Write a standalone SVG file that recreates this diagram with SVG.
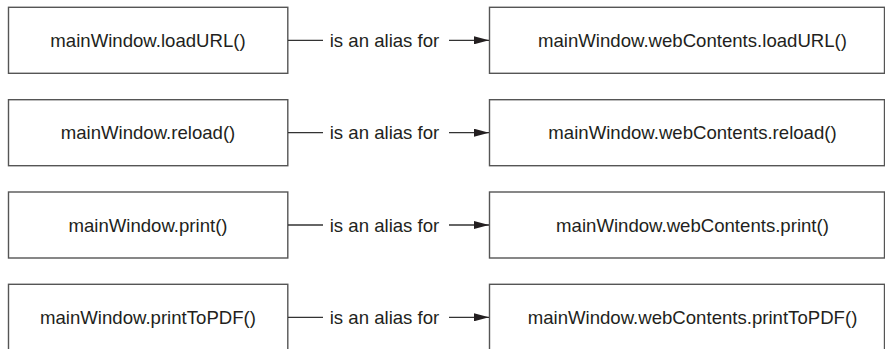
<svg xmlns="http://www.w3.org/2000/svg" width="885" height="349" viewBox="0 0 885 349">
<defs>
<style>
.box{fill:#fff;stroke:#555;stroke-width:1.4}
.t{font-family:"Liberation Sans",Arial,sans-serif;font-size:18.6px;fill:#231f20;text-anchor:middle}
.c{stroke:#333;stroke-width:1.3;fill:none}
</style>
<marker id="ah" markerWidth="15" markerHeight="8" refX="15" refY="4" orient="auto" markerUnits="userSpaceOnUse">
<path d="M0,0 L15,4 L0,8 Z" fill="#231f20"/>
</marker>
</defs>
<rect width="885" height="349" fill="#fff"/>
<g id="n1"><rect class="box" x="8.5" y="7.3" width="279.3" height="66"/><text class="t" x="148" y="47">mainWindow.loadURL()</text></g>
<g id="n2"><rect class="box" x="489.5" y="7.3" width="395" height="66"/><text class="t" x="692.5" y="47">mainWindow.webContents.loadURL()</text></g>
<g id="n3"><rect class="box" x="8.5" y="99.7" width="279.3" height="66"/><text class="t" x="148" y="139.3">mainWindow.reload()</text></g>
<g id="n4"><rect class="box" x="489.5" y="99.7" width="395" height="66"/><text class="t" x="692.5" y="139.3">mainWindow.webContents.reload()</text></g>
<g id="n5"><rect class="box" x="8.5" y="192" width="279.3" height="66"/><text class="t" x="148" y="231.6">mainWindow.print()</text></g>
<g id="n6"><rect class="box" x="489.5" y="192" width="395" height="66"/><text class="t" x="692.5" y="231.6">mainWindow.webContents.print()</text></g>
<g id="n7"><rect class="box" x="8.5" y="284.3" width="279.3" height="80"/><text class="t" x="148" y="323.9">mainWindow.printToPDF()</text></g>
<g id="n8"><rect class="box" x="489.5" y="284.3" width="395" height="80"/><text class="t" x="692.5" y="323.9">mainWindow.webContents.printToPDF()</text></g>
<g id="connectors">
<line class="c" x1="288" y1="40.3" x2="323" y2="40.3"/>
<line class="c" x1="449" y1="40.3" x2="489" y2="40.3" marker-end="url(#ah)"/>
<text class="t" x="384.5" y="46.9">is an alias for</text>
<line class="c" x1="288" y1="132.7" x2="323" y2="132.7"/>
<line class="c" x1="449" y1="132.7" x2="489" y2="132.7" marker-end="url(#ah)"/>
<text class="t" x="384.5" y="139.3">is an alias for</text>
<line class="c" x1="288" y1="225" x2="323" y2="225"/>
<line class="c" x1="449" y1="225" x2="489" y2="225" marker-end="url(#ah)"/>
<text class="t" x="384.5" y="231.6">is an alias for</text>
<line class="c" x1="288" y1="317.3" x2="323" y2="317.3"/>
<line class="c" x1="449" y1="317.3" x2="489" y2="317.3" marker-end="url(#ah)"/>
<text class="t" x="384.5" y="323.9">is an alias for</text>
</g>
</svg>
